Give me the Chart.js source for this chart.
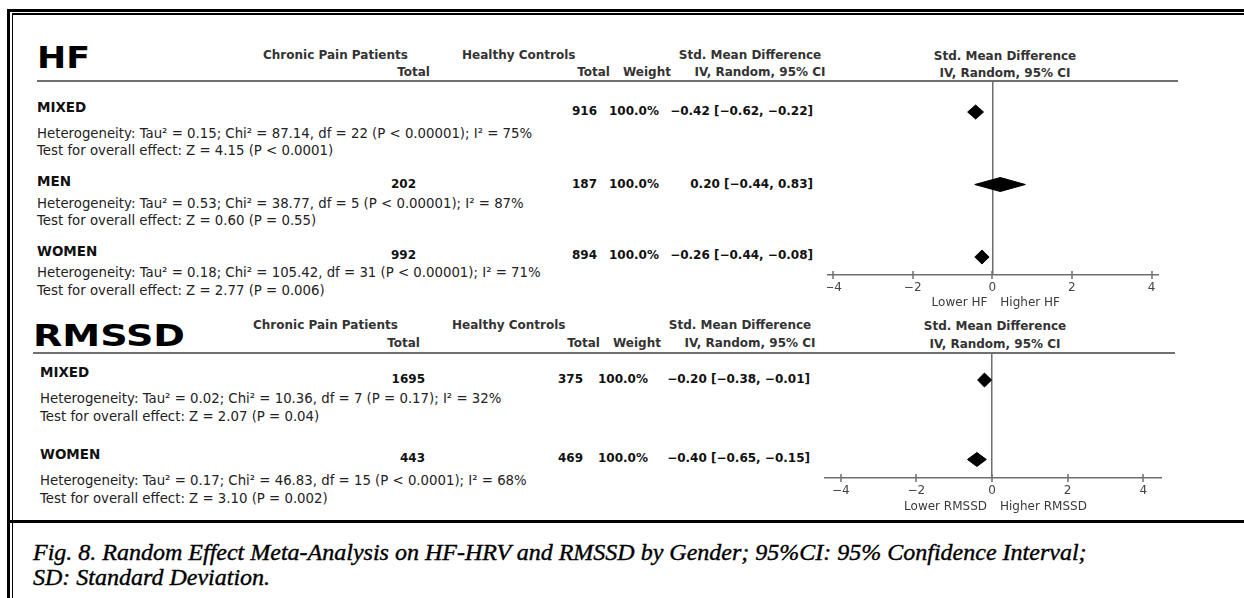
<!DOCTYPE html>
<html><head><meta charset="utf-8">
<script src="https://cdn.jsdelivr.net/npm/chart.js@4.4.1/dist/chart.umd.min.js"></script>
<style>
html,body{margin:0;padding:0;background:#fff;}
#page{position:relative;width:1244px;height:598px;overflow:hidden;background:#fff;}
.t{position:absolute;white-space:nowrap;font-family:"DejaVu Sans",sans-serif;color:#1c1c1c;}
.ln{position:absolute;}
canvas{position:absolute;}
</style></head><body><div id="page"></div>
<script>
// ---------------- DATA ----------------
const hfGroups = ["MIXED", "MEN", "WOMEN"];
const hfPainTotal = [null, 202, 992];
const hfControlTotal = [916, 187, 894];
const hfWeight = ["100.0%", "100.0%", "100.0%"];
const hfSMD = [-0.42, 0.20, -0.26];
const hfLower = [-0.62, -0.44, -0.44];
const hfUpper = [-0.22, 0.83, -0.08];
const hfTau2 = [0.15, 0.53, 0.18];
const hfChi2 = [87.14, 38.77, 105.42];
const hfDf = [22, 5, 31];
const hfHetP = ["P < 0.00001", "P < 0.00001", "P < 0.00001"];
const hfI2 = [75, 87, 71];
const hfZ = [4.15, 0.60, 2.77];
const hfZP = ["P < 0.0001", "P = 0.55", "P = 0.006"];

const rmGroups = ["MIXED", "WOMEN"];
const rmPainTotal = [1695, 443];
const rmControlTotal = [375, 469];
const rmWeight = ["100.0%", "100.0%"];
const rmSMD = [-0.20, -0.40];
const rmLower = [-0.38, -0.65];
const rmUpper = [-0.01, -0.15];
const rmTau2 = [0.02, 0.17];
const rmChi2 = [10.36, 46.83];
const rmDf = [7, 15];
const rmHetP = ["P = 0.17", "P < 0.0001"];
const rmI2 = [32, 68];
const rmZ = [2.07, 3.10];
const rmZP = ["P = 0.04", "P = 0.002"];

const xTickValues = [-4, -2, 0, 2, 4];
const captionLines = [
  "Fig. 8. Random Effect Meta-Analysis on HF-HRV and RMSSD by Gender; 95%CI: 95% Confidence Interval;",
  "SD: Standard Deviation."
];

// ---------------- HELPERS ----------------
const page = document.getElementById('page');
const fmt = v => (v < 0 ? '\u2212' : '') + Math.abs(v).toFixed(2);
const ciText = (e, l, h) => fmt(e) + ' [' + fmt(l) + ', ' + fmt(h) + ']';

function txt(s, x, cy, o) {
  o = o || {};
  const d = document.createElement('div');
  d.className = 't';
  d.textContent = s;
  const size = o.size || 13;
  const lh = Math.round(size * 1.4);
  d.style.fontSize = size + 'px';
  d.style.lineHeight = lh + 'px';
  d.style.fontWeight = o.bold ? 'bold' : 'normal';
  if (o.font) d.style.fontFamily = o.font;
  if (o.italic) d.style.fontStyle = 'italic';
  if (o.color) d.style.color = o.color;
  if (o.stroke) d.style.webkitTextStroke = o.stroke;
  d.style.top = (cy - lh / 2) + 'px';
  d.style.left = '0px';
  page.appendChild(d);
  const w = d.getBoundingClientRect().width;
  const sx = o.fitW ? o.fitW / w : 1;
  const align = o.align || 'left';
  const left = align === 'left' ? x : (align === 'right' ? x - w * sx : x - w * sx / 2);
  d.style.left = left + 'px';
  if (sx !== 1) { d.style.transformOrigin = '0 50%'; d.style.transform = 'scaleX(' + sx + ')'; }
  return d;
}
function rect(x, y, w, h, c) {
  const d = document.createElement('div');
  d.className = 'ln';
  d.style.left = x + 'px'; d.style.top = y + 'px';
  d.style.width = w + 'px'; d.style.height = h + 'px';
  d.style.background = c;
  page.appendChild(d);
}

// ---------------- FRAME ----------------
rect(7, 9, 1237, 3, '#000');
rect(12, 13, 1232, 1.5, '#000');
rect(7, 9, 3, 589, '#000');
rect(11.5, 13, 1.5, 585, '#000');
rect(7, 520, 1237, 3, '#000');

// ---------------- TABLE TEXT ----------------
function section(cfg) {
  const H = cfg.head;
  txt(cfg.title, H.titleX, H.titleY, {size: 30, bold: true, fitW: H.titleW, color: '#000'});
  const hb = {size: 12, bold: true, color: '#333'};
  txt('Chronic Pain Patients', H.cppX, H.y1, hb);
  txt('Total', H.cppTotR, H.y2, Object.assign({align: 'right'}, hb));
  txt('Healthy Controls', H.hcX, H.y1, hb);
  txt('Total', H.hcTotR, H.y2, Object.assign({align: 'right'}, hb));
  txt('Weight', H.wX, H.y2, hb);
  txt('Std. Mean Difference', H.smdC, H.y1, Object.assign({align: 'center'}, hb));
  txt('IV, Random, 95% CI', H.ivC, H.y2, Object.assign({align: 'center'}, hb));
  txt('Std. Mean Difference', H.plotC, H.y1 + 1, Object.assign({align: 'center'}, hb));
  txt('IV, Random, 95% CI', H.plotC, H.y2 + 1, Object.assign({align: 'center'}, hb));
  rect(H.lineX0, H.lineY - 1, H.lineX1 - H.lineX0, 2, '#707070');

  const R = cfg.rows;
  cfg.groups.forEach((g, i) => {
    txt(g, R.x, R.labelY[i], {size: 13.5, bold: true, color: '#111'});
    const nb = {size: 12, bold: true, color: '#111', align: 'right'};
    if (cfg.painTotal[i] !== null) txt(String(cfg.painTotal[i]), R.cppR, R.numY[i], nb);
    txt(String(cfg.controlTotal[i]), R.hcR, R.numY[i], nb);
    txt(cfg.weight[i], R.wR, R.numY[i], nb);
    txt(ciText(cfg.smd[i], cfg.lo[i], cfg.hi[i]), R.ciR, R.numY[i], nb);
    txt('Heterogeneity: Tau\u00B2 = ' + cfg.tau2[i].toFixed(2) + '; Chi\u00B2 = ' + cfg.chi2[i].toFixed(2) +
        ', df = ' + cfg.df[i] + ' (' + cfg.hetP[i] + '); I\u00B2 = ' + cfg.i2[i] + '%', R.x, R.hetY[i], {size: 13.3, color: '#222'});
    txt('Test for overall effect: Z = ' + cfg.z[i].toFixed(2) + ' (' + cfg.zp[i] + ')', R.x, R.testY[i], {size: 13.3, color: '#222'});
  });
}

section({
  title: 'HF',
  head: {titleX: 37, titleY: 58, titleW: 53, cppX: 263, cppTotR: 430, hcX: 462, hcTotR: 610, wX: 623,
         smdC: 750, ivC: 760, plotC: 1005, y1: 55, y2: 72, lineX0: 37, lineX1: 1178, lineY: 81},
  rows: {x: 37, labelY: [107, 181, 251], numY: [111, 184, 255], hetY: [133, 203, 272], testY: [150, 220, 290],
         cppR: 416, hcR: 597, wR: 659, ciR: 813},
  groups: hfGroups, painTotal: hfPainTotal, controlTotal: hfControlTotal, weight: hfWeight,
  smd: hfSMD, lo: hfLower, hi: hfUpper, tau2: hfTau2, chi2: hfChi2, df: hfDf, hetP: hfHetP, i2: hfI2, z: hfZ, zp: hfZP
});
section({
  title: 'RMSSD',
  head: {titleX: 33, titleY: 336, titleW: 152, cppX: 253, cppTotR: 420, hcX: 452, hcTotR: 600, wX: 613,
         smdC: 740, ivC: 750, plotC: 995, y1: 325, y2: 343, lineX0: 33, lineX1: 1175, lineY: 353},
  rows: {x: 40, labelY: [372, 454], numY: [379, 458], hetY: [398, 480], testY: [416, 498],
         cppR: 425, hcR: 583, wR: 648, ciR: 810},
  groups: rmGroups, painTotal: rmPainTotal, controlTotal: rmControlTotal, weight: rmWeight,
  smd: rmSMD, lo: rmLower, hi: rmUpper, tau2: rmTau2, chi2: rmChi2, df: rmDf, hetP: rmHetP, i2: rmI2, z: rmZ, zp: rmZP
});

// caption
const capOpt = {size: 24, italic: true, font: '"Liberation Serif", serif', color: '#000', stroke: '0.4px #000'};
txt(captionLines[0], 33, 552, capOpt);
txt(captionLines[1], 33, 577, capOpt);

// ---------------- FOREST PLOTS (Chart.js) ----------------
function forest(p) {
  const cv = document.createElement('canvas');
  cv.width = p.w; cv.height = p.h;
  cv.style.left = p.left + 'px'; cv.style.top = p.top + 'px';
  cv.style.width = p.w + 'px'; cv.style.height = p.h + 'px';
  page.appendChild(cv);
  const datasets = p.est.map((e, i) => ({
    data: [{x: p.lo[i], y: i}, {x: e, y: i - p.halfH}, {x: p.hi[i], y: i}, {x: e, y: i + p.halfH}, {x: p.lo[i], y: i}],
    showLine: true, fill: 'shape', backgroundColor: '#000', borderColor: '#000', borderWidth: 1,
    pointRadius: 0, tension: 0
  }));
  const extras = {
    id: 'extras',
    afterDraw(chart) {
      const ctx = chart.ctx, x = chart.scales.x, ca = chart.chartArea;
      ctx.save();
      ctx.strokeStyle = '#6f6f6f'; ctx.lineWidth = 1.5;
      x.ticks.forEach(t => {
        const px = Math.round(x.getPixelForValue(t.value));
        ctx.beginPath(); ctx.moveTo(px, ca.bottom - 4); ctx.lineTo(px, ca.bottom + 4); ctx.stroke();
      });
      const z = x.getPixelForValue(0);
      ctx.fillStyle = '#3a3a3a'; ctx.font = '12px "DejaVu Sans"'; ctx.textBaseline = 'middle';
      ctx.textAlign = 'right'; ctx.fillText(p.lowLbl, z - 5, ca.bottom + p.lblDy);
      ctx.textAlign = 'left'; ctx.fillText(p.highLbl, z + 8, ca.bottom + p.lblDy);
      ctx.restore();
    }
  };
  new Chart(cv, {
    type: 'line',
    data: {datasets},
    options: {
      responsive: false, animation: false, events: [],
      layout: {padding: 0, autoPadding: false},
      plugins: {legend: {display: false}, tooltip: {enabled: false}},
      scales: {
        x: {
          type: 'linear', min: p.xmin, max: p.xmax,
          afterBuildTicks: ax => { ax.ticks = xTickValues.map(v => ({value: v})); },
          afterFit: ax => { ax.height = p.axisH; ax.paddingLeft = 0; ax.paddingRight = 0; },
          grid: {drawTicks: false, lineWidth: 1.5,
                 color: c => (c.tick && c.tick.value === 0) ? '#6f6f6f' : 'rgba(0,0,0,0)'},
          border: {display: true, color: '#6f6f6f', width: 1.5},
          ticks: {padding: 6, color: '#444', font: {family: 'DejaVu Sans', size: 12}, maxRotation: 0, autoSkip: false,
                  callback: v => (v < 0 ? '\u2212' : '') + Math.abs(v)}
        },
        y: {type: 'linear', display: false, reverse: true, min: p.ymin, max: p.ymax}
      }
    },
    plugins: [extras]
  });
}

forest({left: 827, top: 81, w: 332, h: 234, axisH: 40, xmin: -4.153, xmax: 4.188,
        ymin: -0.428, ymax: 2.248, halfH: 0.0966, est: hfSMD, lo: hfLower, hi: hfUpper,
        lowLbl: 'Lower HF', highLbl: 'Higher HF', lblDy: 28});
forest({left: 824, top: 353, w: 338, h: 165, axisH: 40, xmin: -4.444, xmax: 4.497,
        ymin: -0.34, ymax: 1.233, halfH: 0.088, est: rmSMD, lo: rmLower, hi: rmUpper,
        lowLbl: 'Lower RMSSD', highLbl: 'Higher RMSSD', lblDy: 29});
</script>
</body></html>
